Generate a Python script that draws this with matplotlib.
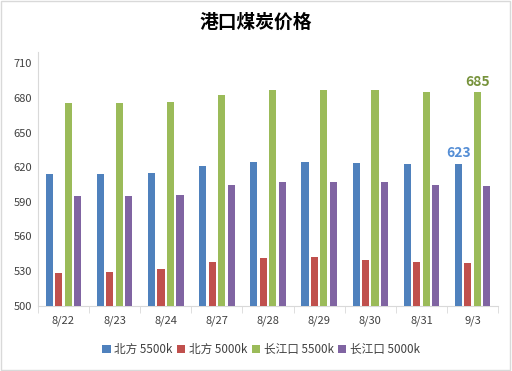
import numpy as np
import matplotlib
matplotlib.use('Agg')
import matplotlib.pyplot as plt
from matplotlib.patches import Rectangle

plt.rcParams['font.family'] = ['Noto Sans CJK SC', 'DejaVu Sans']

# 数据
dates = ['8/22', '8/23', '8/24', '8/27', '8/28', '8/29', '8/30', '8/31', '9/3']
north_5500 = [614, 614, 615, 621, 625, 625, 624, 623, 623]
north_5000 = [528, 529, 532, 538, 541, 542, 540, 538, 537]
cj_5500 = [676, 676, 677, 683, 687, 687, 687, 685, 685]
cj_5000 = [595, 595, 596, 605, 607, 607, 607, 605, 604]

series = [north_5500, north_5000, cj_5500, cj_5000]
names = ['北方 5500k', '北方 5000k', '长江口 5500k', '长江口 5000k']
colors = ['#4F81BD', '#C0504D', '#9BBB59', '#8064A2']

fig = plt.figure(figsize=(5.12, 3.71), dpi=100)
ax = fig.add_axes([0.074, 0.176, 0.899, 0.684])

x = np.arange(len(dates))
slot = 0.185
width = 0.14
for i, (vals, name, c) in enumerate(zip(series, names, colors)):
    ax.bar(x + (i - 1.5) * slot, vals, width, color=c, label=name, zorder=3)

# 数据标签
ax.text(x[-1] - 1.5 * slot, north_5500[-1] + 3, str(north_5500[-1]),
        ha='center', va='bottom', color='#558ED5', fontsize=10, fontweight='bold')
ax.text(x[-1] + 0.5 * slot, cj_5500[-1] + 3, str(cj_5500[-1]),
        ha='center', va='bottom', color='#77933C', fontsize=10, fontweight='bold')

ax.set_ylim(500, 720)
ax.set_yticks(np.arange(500, 711, 30))
ax.set_xlim(-0.5, len(dates) - 0.5)
ax.set_xticks(x)
ax.set_xticklabels(dates)
ax.set_xticks(np.arange(-0.5, len(dates), 1), minor=True)
ax.tick_params(axis='x', which='major', length=0, pad=7, labelsize=8, labelcolor='#404040')
ax.tick_params(axis='x', which='minor', length=5, color='#D9D9D9', direction='out')
ax.tick_params(axis='y', length=0, labelsize=8, labelcolor='#404040', pad=4)

for s in ['top', 'right']:
    ax.spines[s].set_visible(False)
ax.spines['left'].set_color('#D9D9D9')
ax.spines['bottom'].set_color('#D9D9D9')

fig.text(0.5, 0.94, '港口煤炭价格', ha='center', va='center',
         fontsize=13.5, fontweight='bold', color='black')

ax.legend(loc='upper center', bbox_to_anchor=(0.485, -0.105), ncol=4, frameon=False,
          fontsize=8.4, handlelength=0.7, handleheight=0.7, handletextpad=0.3,
          columnspacing=0.4, labelcolor='#404040')

fig.patches.append(Rectangle((0.002, 0.003), 0.995, 0.994, transform=fig.transFigure,
                             fill=False, edgecolor='#D9D9D9', linewidth=1))

plt.savefig('out.png', dpi=100)
